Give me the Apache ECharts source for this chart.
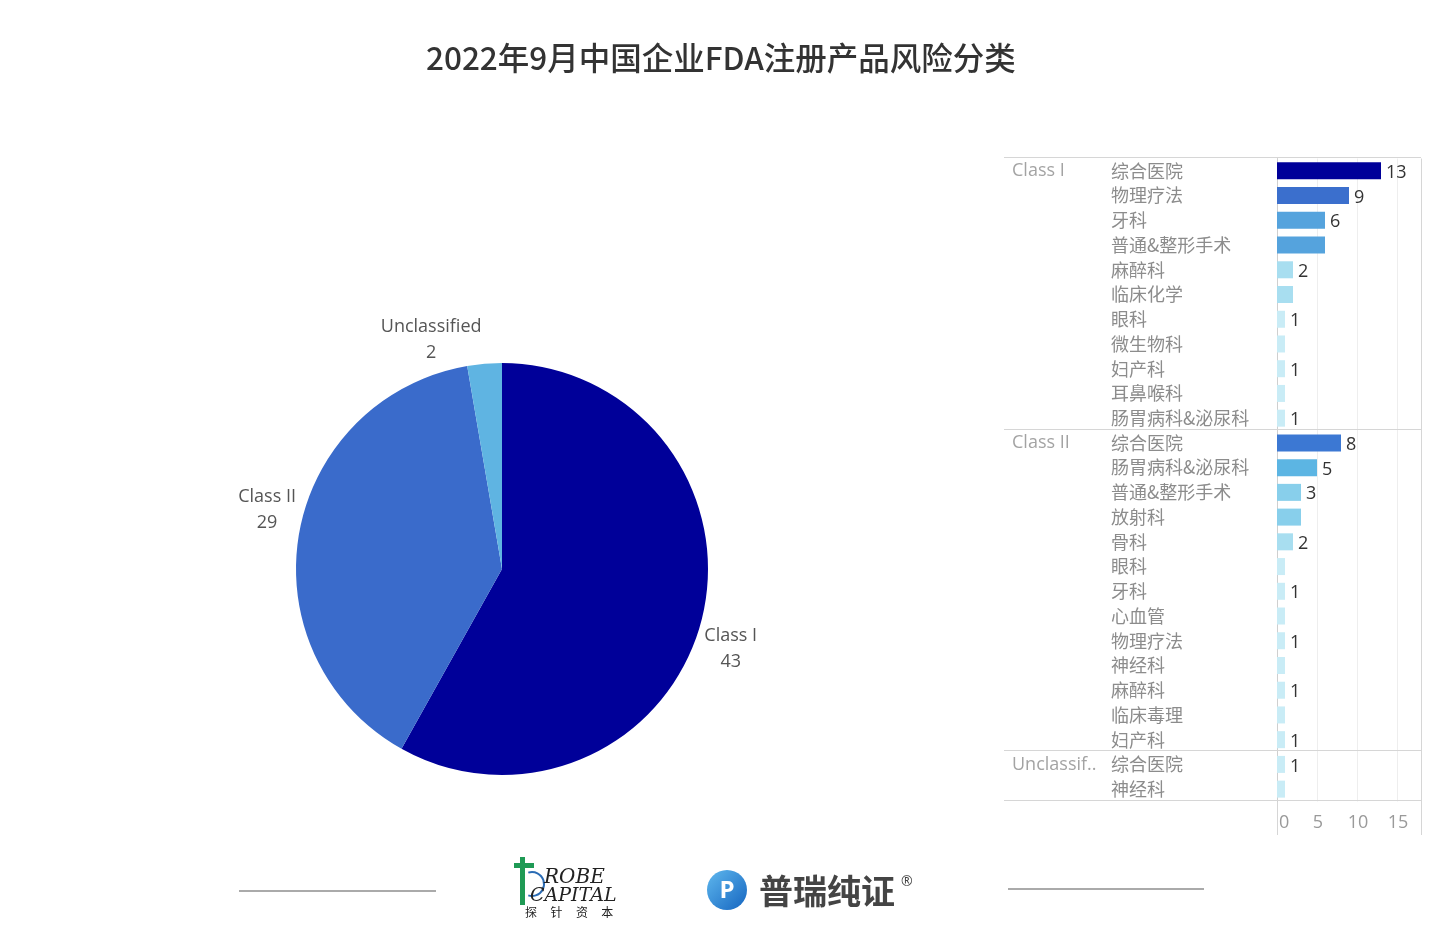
<!DOCTYPE html>
<html>
<head>
<meta charset="utf-8">
<script src="https://cdn.jsdelivr.net/npm/echarts@6/dist/echarts.min.js"></script>
<style>
html,body{margin:0;padding:0;background:#fff;}
#chart{width:1440px;height:945px;}
</style>
</head>
<body>
<div id="chart"></div>
<script>
// ---------------- DATA ----------------
const titleText = '2022年9月中国企业FDA注册产品风险分类';
const classNames = ['Class I', 'Class II', 'Unclassified'];
const classTotals = [43, 29, 2];

const class1Depts = ['综合医院','物理疗法','牙科','普通&整形手术','麻醉科','临床化学','眼科','微生物科','妇产科','耳鼻喉科','肠胃病科&泌尿科'];
const class1Counts = [13, 9, 6, 6, 2, 2, 1, 1, 1, 1, 1];
const class1LabelShown = [1, 1, 1, 0, 1, 0, 1, 0, 1, 0, 1];

const class2Depts = ['综合医院','肠胃病科&泌尿科','普通&整形手术','放射科','骨科','眼科','牙科','心血管','物理疗法','神经科','麻醉科','临床毒理','妇产科'];
const class2Counts = [8, 5, 3, 3, 2, 1, 1, 1, 1, 1, 1, 1, 1];
const class2LabelShown = [1, 1, 1, 0, 1, 0, 1, 0, 1, 0, 1, 0, 1];

const unclassDepts = ['综合医院','神经科'];
const unclassCounts = [1, 1];
const unclassLabelShown = [1, 0];

const xAxisMin = 0, xAxisMax = 18, xAxisInterval = 5;

// ---------------- STYLE / LAYOUT ----------------
const pieColors = ['#000099', '#3a6bcb', '#5fb4e2'];
const barColorStops = [[1,'#c9ecf6'],[2,'#a8def0'],[3,'#88cfeb'],[5,'#5cb5e3'],[6,'#55a3dd'],[8,'#3c78d3'],[9,'#3b6fcd'],[13,'#000099']];
const PIE_CX = 502, PIE_CY = 569, PIE_R = 206;
const latin = '"Open Sans", "Noto Sans CJK SC", sans-serif';
const cjk = '"Noto Sans CJK SC", "Open Sans", sans-serif';

function barColor(v){
  for (const [k,c] of barColorStops) if (v <= k) return c;
  return barColorStops[barColorStops.length-1][1];
}

// build rows
const groups = [
  {cls: classNames[0], depts: class1Depts, counts: class1Counts, shown: class1LabelShown},
  {cls: classNames[1], depts: class2Depts, counts: class2Counts, shown: class2LabelShown},
  {cls: classNames[2], depts: unclassDepts, counts: unclassCounts, shown: unclassLabelShown}
];
const rows = [];
const groupStarts = [];
groups.forEach(g => {
  groupStarts.push(rows.length);
  g.depts.forEach((d, i) => rows.push({key: g.cls + '|' + d, dept: d, value: g.counts[i], show: !!g.shown[i]}));
});
const boundaries = groupStarts.concat([rows.length]);
const grandTotal = classTotals.reduce((a,b)=>a+b,0);

const chart = echarts.init(document.getElementById('chart'));
const option = {
  backgroundColor: '#ffffff',
  animation: false,
  title: {
    text: titleText,
    left: 421,
    top: 37,
    textStyle: {fontFamily: cjk, fontSize: 31.5, fontWeight: 500, color: '#333333'}
  },
  grid: [
    {left: 1277, right: 19, top: 158.5, bottom: 143.5, containLabel: false},
    {left: 1004, right: 19, top: 157, bottom: 145, containLabel: false}
  ],
  xAxis: [
    {
      gridIndex: 0, type: 'value', min: xAxisMin, max: xAxisMax, interval: xAxisInterval,
      axisLine: {show: false}, axisTick: {show: false},
      axisLabel: {fontFamily: latin, fontSize: 18, color: '#9a9a9a', margin: 12, showMaxLabel: false, alignMinLabel: 'left', padding: [0, 0, 0, 2]},
      splitLine: {show: true, lineStyle: {color: ['#eeeeee','#eeeeee','#eeeeee','#eeeeee','#d6d6d6'], width: 1}}
    },
    {gridIndex: 1, type: 'value', min: 0, max: 1, show: false}
  ],
  yAxis: [
    {
      gridIndex: 0, type: 'category', inverse: true,
      data: rows.map(r => r.key),
      axisLine: {show: true, lineStyle: {color: '#cfcfcf'}},
      axisTick: {show: false},
      axisLabel: {
        fontFamily: cjk, fontSize: 18, color: '#8c8c8c', align: 'left', margin: 166,
        formatter: v => v.split('|')[1]
      },
      splitLine: {show: false}
    },
    {gridIndex: 1, type: 'value', min: 0, max: rows.length, inverse: true, show: false}
  ],
  series: [
    {
      type: 'pie',
      center: [PIE_CX, PIE_CY],
      radius: [0, PIE_R],
      startAngle: 90,
      clockwise: true,
      silent: true,
      data: classNames.map((n, i) => ({name: n, value: classTotals[i], itemStyle: {color: pieColors[i]}})),
      label: {
        show: true, position: 'outside',
        formatter: '{n|{b}}\n{n|{c}}',
        rich: {n: {align: 'center', fontFamily: latin, fontSize: 18, lineHeight: 26, color: '#555555'}}
      },
      labelLine: {show: false, length: 0, length2: 0},
      labelLayout: function (p) {
        const i = p.dataIndex;
        let before = 0;
        for (let k = 0; k < i; k++) before += classTotals[k];
        const mid = (before + classTotals[i] / 2) / grandTotal * Math.PI * 2;
        const dx = Math.sin(mid), dy = -Math.cos(mid);
        const ax = PIE_CX + PIE_R * dx, ay = PIE_CY + PIE_R * dy;
        const right = dx >= 0, down = dy >= 0;
        return {x: ax + (right ? 3 : -3), y: ay + 2, align: right ? 'left' : 'right', verticalAlign: down ? 'top' : 'bottom'};
      }
    },
    {
      type: 'bar',
      xAxisIndex: 0, yAxisIndex: 0,
      barWidth: 17,
      silent: true,
      data: rows.map(r => ({
        value: r.value,
        itemStyle: {color: barColor(r.value)},
        label: {show: r.show}
      })),
      label: {position: 'right', distance: 5, fontFamily: latin, fontSize: 18, color: '#333333', offset: [0, 2]}
    },
    {
      type: 'scatter',
      xAxisIndex: 1, yAxisIndex: 1,
      symbolSize: 0,
      silent: true,
      data: groups.map((g, i) => ({value: [0, groupStarts[i] + 0.5], name: g.cls})),
      label: {
        show: true, position: 'right', distance: 8, offset: [0, 1.5],
        formatter: '{b}', fontFamily: latin, fontSize: 18, color: '#8c8c8c',
        width: 91, overflow: 'truncate', ellipsis: '..'
      },
      markLine: {
        silent: true, symbol: 'none',
        label: {show: false},
        lineStyle: {color: '#d6d6d6', type: 'solid', width: 1},
        data: boundaries.map(b => ({yAxis: b}))
      }
    }
  ],
  graphic: [
    // axis extension below frame
    {type: 'line', shape: {x1: 1277.5, y1: 800, x2: 1277.5, y2: 835}, style: {stroke: '#d6d6d6', lineWidth: 1}, silent: true},
    {type: 'line', shape: {x1: 1421.5, y1: 800, x2: 1421.5, y2: 835}, style: {stroke: '#d6d6d6', lineWidth: 1}, silent: true},
    // footer lines
    {type: 'line', shape: {x1: 239, y1: 891, x2: 436, y2: 891}, style: {stroke: '#aaaaaa', lineWidth: 2}, silent: true},
    {type: 'line', shape: {x1: 1008, y1: 889, x2: 1204, y2: 889}, style: {stroke: '#aaaaaa', lineWidth: 2}, silent: true},
    // Probe Capital logo
    {type: 'rect', shape: {x: 520, y: 857, width: 5, height: 48}, style: {fill: '#1f9a55'}, silent: true},
    {type: 'rect', shape: {x: 514, y: 863, width: 20, height: 5}, style: {fill: '#1f9a55'}, silent: true},
    {type: 'arc', shape: {cx: 532, cy: 884, r: 12, startAngle: -Math.PI * 0.6, endAngle: Math.PI * 0.6}, style: {stroke: '#2b6cb5', lineWidth: 2, fill: 'none'}, silent: true},
    {type: 'text', x: 544, y: 878, style: {text: 'ROBE', font: 'italic 20px "DejaVu Serif", serif', fill: '#222', textVerticalAlign: 'middle'}, silent: true},
    {type: 'text', x: 530, y: 896, style: {text: 'CAPITAL', font: 'italic 19px "DejaVu Serif", serif', fill: '#222', textVerticalAlign: 'middle'}, silent: true},
    {type: 'text', x: 525, y: 912, style: {text: '探     针     资     本', font: '12px "Noto Sans CJK SC", sans-serif', fill: '#222', textVerticalAlign: 'middle'}, silent: true},
    // 普瑞纯证 logo
    {type: 'circle', shape: {cx: 727, cy: 890, r: 20}, style: {fill: {type: 'linear', x: 0, y: 0, x2: 1, y2: 1, colorStops: [{offset: 0, color: '#5fb8ee'}, {offset: 1, color: '#1565c0'}]}}, silent: true},
    {type: 'text', x: 727, y: 891, style: {text: 'P', font: 'bold 24px "Open Sans", sans-serif', fill: '#ffffff', textAlign: 'center', textVerticalAlign: 'middle'}, silent: true},
    {type: 'text', x: 759, y: 891, style: {text: '普瑞纯证', font: 'bold 34px "Noto Sans CJK SC", sans-serif', fill: '#444444', textVerticalAlign: 'middle'}, silent: true},
    {type: 'text', x: 901, y: 882, style: {text: '®', font: '14px "Open Sans", sans-serif', fill: '#444444', textVerticalAlign: 'middle'}, silent: true}
  ]
};
chart.setOption(option);
</script>
</body>
</html>
